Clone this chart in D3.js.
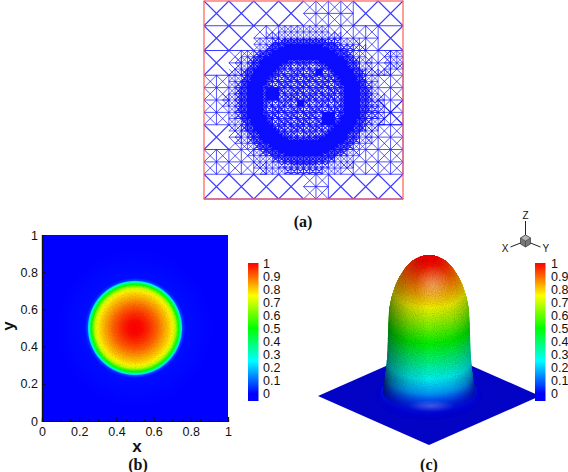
<!DOCTYPE html>
<html>
<head>
<meta charset="utf-8">
<title>Adaptive mesh and solution</title>
<script src="https://cdn.jsdelivr.net/npm/d3@7"></script>
<style>
  html, body { margin: 0; padding: 0; background: #fff; }
  svg { display: block; }
  text { font-family: "Liberation Sans", Arial, sans-serif; fill: #111; }
  .caption { font-family: "Liberation Serif", "Times New Roman", serif; font-weight: bold; font-size: 16px; }
  .axis-title { font-weight: bold; font-size: 17px; }
  .tick text { font-size: 12.5px; }
</style>
</head>
<body>
<svg id="chart" width="568" height="472"></svg>
<script>
// refinement level of the mesh on a 32x32 lattice
// 0 = 1/8 of the side, 1 = 1/16, 2 = 1/32, 3 = fine zone, 4 = local clump
const meshLevels = [
  "00000000000000001111111100000000",
  "00000000000000001111111100000000",
  "00000000000000001111111100000000",
  "00000000000000001111111100000000",
  "00000000111122222222111111110000",
  "00000000112222222222221111110000",
  "00000000222333333333332221110000",
  "00000000223333333333333322110000",
  "00001122333333333333333322111222",
  "00001223333333333333333332211222",
  "00001223333333333333333332211222",
  "00002233333333333343333333222211",
  "11112233333333333333333333221111",
  "11112333333333333333333333321111",
  "11112333334433333333333333321111",
  "11122333334433333333333333322111",
  "11122333333333343333333333332110",
  "11112333333333333333333333332111",
  "11112333333333333334433333332111",
  "11112233333333333334433333322111",
  "00002233333333333333333333221111",
  "00001223333333333333333332211111",
  "00001223333333333333333332211111",
  "00001122333333333333333322111111",
  "11111112233333333333333221111111",
  "11111111222333333333322211111111",
  "11111111222233333333222211111111",
  "11111111122223333332221111111111",
  "00000000000000001111000000000000",
  "00000000000000001111000000000000",
  "00000000000000001111000000000000",
  "00000000000000001111000000000000"
];
// lattice distance from the centre where the fine zone changes density
const bandEdges = [6.1, 6.7, 9.2, 10.4];
const bandDensity = [0, 1, 2, 1, 0];

// radial profile of panel (b): distance from the centre -> value
const fieldRadius = [0, 0.04, 0.08, 0.12, 0.15, 0.18, 0.2, 0.215, 0.225, 0.235, 0.245, 0.25, 0.256, 0.27, 0.35, 0.42];
const fieldValue = [1, 0.99, 0.95, 0.9, 0.85, 0.8, 0.76, 0.7, 0.6, 0.5, 0.35, 0.22, 0.06, 0.012, 0.006, 0];

// radial profile of the surface in panel (c)
const surfaceRadius = [0, 0.04, 0.08, 0.12, 0.16, 0.2, 0.22, 0.24, 0.25, 0.256, 0.26, 0.266, 0.272, 0.28, 0.29, 0.31, 0.34];
const surfaceValue = [1, 0.994, 0.976, 0.945, 0.896, 0.823, 0.771, 0.7, 0.646, 0.595, 0.5, 0.3, 0.2, 0.13, 0.07, 0.02, 0];

const axisTicks = [0, 0.2, 0.4, 0.6, 0.8, 1];
const axisMinorTicks = [0.05, 0.1, 0.15, 0.25, 0.3, 0.35, 0.45, 0.5, 0.55, 0.65, 0.7, 0.75, 0.85, 0.9, 0.95];
const barTicks = [0, 0.1, 0.2, 0.3, 0.4, 0.5, 0.6, 0.7, 0.8, 0.9, 1];
const colorStops = [0, 0.25, 0.5, 0.75, 1];
const colorNames = ["#0000ff", "#00ffff", "#00ff00", "#ffff00", "#ff0000"];
const floorCorners = [[0, 0], [1, 0], [1, 1], [0, 1]];

const svg = d3.select("#chart");
const defs = svg.append("defs");
const color = d3.scaleLinear().domain(colorStops).range(colorNames).clamp(true);

// speckle, the source picture is noisy in the same way
const grain = defs.append("filter").attr("id", "grain").attr("x", 0).attr("y", 0).attr("width", 1).attr("height", 1);
grain.append("feTurbulence").attr("type", "fractalNoise").attr("baseFrequency", 0.9).attr("numOctaves", 1).attr("seed", 4);
grain.append("feColorMatrix").attr("values", "0 0 0 0 0  0 0 0 0 0  0 0 0 0 0  1.6 0 0 0 -0.62");

// ---------- (a) mesh ----------
const meshX = d3.scaleLinear().domain([0, 32]).range([204, 403]);
const meshY = d3.scaleLinear().domain([0, 32]).range([1, 199]);
const band = d3.scaleThreshold().domain(bandEdges).range(bandDensity);

function cellPath(path, x, y, s, edges) {
  const x0 = meshX(x), x1 = meshX(x + s), y0 = meshY(y), y1 = meshY(y + s);
  path.moveTo(x0, y0); path.lineTo(x1, y1);
  path.moveTo(x1, y0); path.lineTo(x0, y1);
  path.moveTo(x0, y1); path.lineTo(x1, y1);
  if (edges) {
    path.moveTo(x1, y1); path.lineTo(x1, y0);
  }
}

// 0, 1, 2: plain cells; 3: strong cells of the fine zone; 4, 5: subdivided
const meshPaths = [d3.path(), d3.path(), d3.path(), d3.path(), d3.path(), d3.path()];
const seen = new Set();

function subdivide(x, y, s, path) {
  [0, 1].forEach((i) => [0, 1].forEach((j) => cellPath(path, x + i * s / 2, y + j * s / 2, s / 2, true)));
}

meshLevels.forEach((row, r) => {
  Array.from(row).forEach((ch, c) => {
    const level = +ch;
    if (level < 3) {
      const s = 4 / Math.pow(2, level);
      const cx = Math.floor(c / s) * s, cy = Math.floor(r / s) * s;
      const key = cx + "_" + cy + "_" + s;
      if (seen.has(key)) return;
      seen.add(key);
      cellPath(meshPaths[level], cx, cy, s, level > 0);
      return;
    }
    cellPath(meshPaths[3], c, r, 1, true);
    [0, 1].forEach((i) => [0, 1].forEach((j) => {
      const px = c + i / 2, py = r + j / 2;
      const dist = Math.hypot(px + 0.25 - 16, py + 0.25 - 16);
      let density = level === 4 ? 2 : band(dist);
      // inner zone is only partly refined
      if (density === 0 && dist < 6.1 && (c + r) % 3 !== 0 && i === j) density = 1;
      if (density === 1) cellPath(meshPaths[4], px, py, 0.5, true);
      if (density === 2) subdivide(px, py, 0.5, meshPaths[5]);
    }));
  });
});

const meshWidths = [1.1, 1, 0.9, 1.1, 0.8, 1.1];
const meshOpacity = [0.8, 0.7, 0.7, 0.9, 0.95, 1];
svg.append("g").selectAll("path").data(meshPaths).join("path")
  .attr("d", (d) => d.toString())
  .attr("fill", "none")
  .attr("stroke", "#0c0cff")
  .attr("stroke-width", (d, i) => meshWidths[i])
  .attr("stroke-opacity", (d, i) => meshOpacity[i]);

svg.append("rect")
  .attr("x", meshX(0)).attr("y", meshY(0))
  .attr("width", meshX(32) - meshX(0)).attr("height", meshY(32) - meshY(0))
  .attr("fill", "none").attr("stroke", "#ff5a5a").attr("stroke-width", 1.2);

svg.append("text").attr("class", "caption").attr("x", 303).attr("y", 227).attr("text-anchor", "middle").text("(a)");

// ---------- (b) contour ----------
const x = d3.scaleLinear().domain([0, 1]).range([42, 228]);
const y = d3.scaleLinear().domain([0, 1]).range([421, 235]);

const fieldGrad = defs.append("radialGradient")
  .attr("id", "field").attr("gradientUnits", "userSpaceOnUse")
  .attr("cx", x(0.5)).attr("cy", y(0.5)).attr("r", x(0.42) - x(0));
fieldGrad.selectAll("stop").data(fieldRadius).join("stop")
  .attr("offset", (d) => d / 0.42)
  .attr("stop-color", (d, i) => color(fieldValue[i]));

svg.append("rect")
  .attr("x", x(0)).attr("y", y(1))
  .attr("width", x(1) - x(0)).attr("height", y(0) - y(1))
  .attr("fill", "url(#field)");

defs.append("clipPath").attr("id", "core").append("circle")
  .attr("cx", x(0.5)).attr("cy", y(0.5)).attr("r", x(0.235) - x(0));
svg.append("g").attr("clip-path", "url(#core)").attr("opacity", 0.14)
  .append("rect")
  .attr("x", x(0.2)).attr("y", y(0.8))
  .attr("width", x(0.6) - x(0)).attr("height", y(0.2) - y(0.8))
  .attr("filter", "url(#grain)");

function styleAxis(g) {
  g.selectAll(".domain").attr("stroke", "#111").attr("stroke-width", 1.2);
  g.selectAll(".tick line").attr("stroke", "#111");
}

svg.append("g").attr("transform", `translate(0,${y(0)})`)
  .call(d3.axisBottom(x).tickValues(axisMinorTicks).tickSize(-2).tickFormat(""))
  .call(styleAxis);
svg.append("g").attr("transform", `translate(${x(0)},0)`)
  .call(d3.axisLeft(y).tickValues(axisMinorTicks).tickSize(-2).tickFormat(""))
  .call(styleAxis);
svg.append("g").attr("transform", `translate(0,${y(0)})`)
  .call(d3.axisBottom(x).tickValues(axisTicks).tickSize(-4).tickPadding(6).tickFormat(d3.format("")))
  .call(styleAxis);
svg.append("g").attr("transform", `translate(${x(0)},0)`)
  .call(d3.axisLeft(y).tickValues(axisTicks).tickSize(-4).tickPadding(4).tickFormat(d3.format("")))
  .call(styleAxis);

svg.append("text").attr("class", "axis-title").attr("x", 137).attr("y", 452).attr("text-anchor", "middle").text("x");
svg.append("text").attr("class", "axis-title").attr("transform", "translate(14,326) rotate(-90)").attr("text-anchor", "middle").text("y");
svg.append("text").attr("class", "caption").attr("x", 138).attr("y", 470).attr("text-anchor", "middle").text("(b)");

// ---------- (c) surface ----------
// x - y runs left to right, x + y runs back to front
const sx = d3.scaleLinear().domain([-1, 1]).range([318, 540]);
const sy = d3.scaleLinear().domain([0, 2]).range([347, 445]);
const zHeight = d3.scaleLinear().domain([0, 1]).range([0, 138.6]);
const rx = (sx(1) - sx(0)) * Math.SQRT2;
const ry = (sy(1) - sy(0)) * Math.SQRT2;
const floorCx = sx(0), floorCy = sy(1);

svg.append("polygon")
  .attr("points", floorCorners.map((c) => [sx(c[0] - c[1]), sy(c[0] + c[1])].join(",")).join(" "))
  .attr("fill", "#0303c6");

const heightAt = d3.scaleLinear().domain(surfaceRadius).range(surfaceValue);
const rings = d3.range(0.34, 0, -0.0005);

svg.append("g").selectAll("ellipse").data(rings).join("ellipse")
  .attr("cx", floorCx)
  .attr("cy", (d) => floorCy - zHeight(heightAt(d)))
  .attr("rx", (d) => d * rx)
  .attr("ry", (d) => d * ry)
  .attr("fill", (d) => {
    const v = heightAt(d);
    return d3.interpolateRgb("#0303c6", color(v))(Math.min(v / 0.15, 1));
  });

// side shading, clipped to the dome and faded out towards its foot
const domeClip = defs.append("clipPath").attr("id", "dome");
domeClip.selectAll("ellipse").data(rings.filter((d) => d < 0.3)).join("ellipse")
  .attr("cx", floorCx)
  .attr("cy", (d) => floorCy - zHeight(heightAt(d)))
  .attr("rx", (d) => d * rx)
  .attr("ry", (d) => d * ry);

const footFade = defs.append("linearGradient").attr("id", "footFade")
  .attr("gradientUnits", "userSpaceOnUse").attr("x1", 0).attr("x2", 0).attr("y1", 380).attr("y2", 416);
footFade.append("stop").attr("offset", 0).attr("stop-color", "#fff");
footFade.append("stop").attr("offset", 1).attr("stop-color", "#000");
defs.append("mask").attr("id", "footMask").attr("maskUnits", "userSpaceOnUse")
  .attr("x", 370).attr("y", 240).attr("width", 120).attr("height", 190)
  .append("rect").attr("x", 370).attr("y", 240).attr("width", 120).attr("height", 190).attr("fill", "url(#footFade)");

const shadeOffset = [0, 0.1, 0.28, 0.5, 0.75, 0.9, 1];
const shadeAlpha = [0.6, 0.4, 0.18, 0.05, 0.1, 0.2, 0.34];
const shade = defs.append("linearGradient").attr("id", "shade");
shade.selectAll("stop").data(shadeOffset).join("stop")
  .attr("offset", (d) => d)
  .attr("stop-color", "#000")
  .attr("stop-opacity", (d, i) => shadeAlpha[i]);

const glow = defs.append("radialGradient").attr("id", "glow");
glow.append("stop").attr("offset", 0).attr("stop-color", "#fff").attr("stop-opacity", 0.34);
glow.append("stop").attr("offset", 1).attr("stop-color", "#fff").attr("stop-opacity", 0);

const dome = svg.append("g").attr("clip-path", "url(#dome)").append("g").attr("mask", "url(#footMask)");
dome.append("rect").attr("x", floorCx - 46).attr("y", 250).attr("width", 92).attr("height", 170).attr("fill", "url(#shade)");
dome.append("ellipse").attr("cx", 433).attr("cy", 285).attr("rx", 18).attr("ry", 20).attr("fill", "url(#glow)");
dome.append("rect").attr("x", floorCx - 46).attr("y", 250).attr("width", 92).attr("height", 170)
  .attr("filter", "url(#grain)").attr("opacity", 0.22);
svg.append("ellipse").attr("cx", 431).attr("cy", 406).attr("rx", 24).attr("ry", 6).attr("fill", "url(#glow)").attr("opacity", 0.7);

svg.append("text").attr("class", "caption").attr("x", 429).attr("y", 470).attr("text-anchor", "middle").text("(c)");

// colour bars share the same value scale
const barY = d3.scaleLinear().domain([0, 1]).range([393.5, 263]);
const barGrad = defs.append("linearGradient")
  .attr("id", "bar").attr("gradientUnits", "userSpaceOnUse")
  .attr("x1", 0).attr("x2", 0).attr("y1", barY(0)).attr("y2", barY(1));
barGrad.selectAll("stop").data(colorStops).join("stop")
  .attr("offset", (d) => d)
  .attr("stop-color", (d, i) => colorNames[i]);

function colorBar(left, width, labelX) {
  svg.append("rect")
    .attr("x", left).attr("y", barY(1))
    .attr("width", width).attr("height", 401 - barY(1))
    .attr("fill", "url(#bar)");
  const g = svg.append("g").attr("transform", `translate(${labelX},0)`)
    .call(d3.axisRight(barY).tickValues(barTicks).tickSize(0).tickPadding(0).tickFormat(d3.format("")));
  g.select(".domain").remove();
}
colorBar(248, 10.5, 263);
colorBar(535, 10.5, 551);

// orientation triad
const triadLabels = ["X", "Y", "Z"];
const triadDx = [-15, 15, 0];
const triadDy = [6, 6, -20];
const triad = svg.append("g").attr("transform", "translate(525.5,241)");
triad.selectAll("line").data(triadLabels).join("line")
  .attr("x2", (d, i) => triadDx[i]).attr("y2", (d, i) => triadDy[i])
  .attr("stroke", "#222").attr("stroke-width", 1);
triad.append("path").attr("d", "M-5,-3L0,-6L5,-3L5,3L0,6L-5,3Z").attr("fill", "#777").attr("stroke", "#333").attr("stroke-width", 0.7);
triad.append("path").attr("d", "M-5,-3L0,-6L5,-3L0,0Z").attr("fill", "#b5b5b5").attr("stroke", "#333").attr("stroke-width", 0.5);
triad.append("path").attr("d", "M0,0L0,6").attr("stroke", "#333").attr("stroke-width", 0.5);
triad.selectAll("text").data(triadLabels).join("text")
  .attr("x", (d, i) => triadDx[i] * 1.36)
  .attr("y", (d, i) => triadDy[i] * 1.3 + 3.5)
  .attr("text-anchor", "middle")
  .attr("font-size", 10)
  .text((d) => d);
</script>
</body>
</html>
